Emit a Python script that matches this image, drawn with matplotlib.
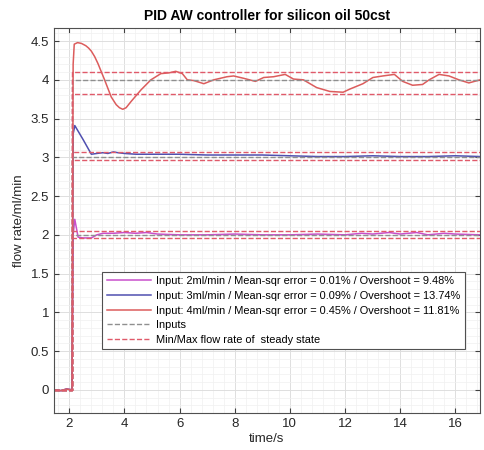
import numpy as np
import matplotlib.pyplot as plt
from matplotlib.ticker import MultipleLocator, AutoMinorLocator

plt.rcParams['font.family'] = ['Liberation Sans', 'DejaVu Sans']

# step time of the setpoint
t_step = 2.1
t_end = 16.9

# 2 ml/min response
t2 = [1.44, 1.7, 1.9, 2.1, 2.14, 2.2, 2.32, 2.5, 2.8, 3.0, 3.22, 3.6, 4.0, 4.4, 4.8, 5.2,
      6.0, 7.0, 8.0, 9.0, 10.0, 11.0, 12.0, 12.6, 13.0, 13.6, 14.0, 14.6, 15.0, 15.6, 16.0, 16.9]
v2 = [0.0, -0.01, 0.01, 0.0, 2.0, 2.2, 1.97, 1.96, 1.96, 2.0, 2.02, 2.02, 2.03, 2.02, 2.03, 2.01,
      2.0, 2.0, 2.01, 2.0, 2.0, 2.01, 2.0, 2.02, 2.01, 2.03, 2.01, 2.03, 2.0, 2.02, 2.01, 2.0]

# 3 ml/min response
t3 = [1.44, 1.7, 1.9, 2.1, 2.14, 2.2, 2.5, 2.8, 3.0, 3.22, 3.4, 3.6, 3.76, 4.0, 4.42, 5.0,
      6.0, 7.0, 8.0, 9.0, 10.0, 11.0, 12.0, 13.0, 14.0, 15.0, 16.0, 16.9]
v3 = [0.0, -0.01, 0.01, 0.0, 3.3, 3.41, 3.23, 3.04, 3.05, 3.06, 3.05, 3.07, 3.06, 3.05, 3.04, 3.04,
      3.04, 3.03, 3.03, 3.03, 3.02, 3.01, 3.01, 3.02, 3.01, 3.01, 3.02, 3.01]

# 4 ml/min response
t4 = [1.44, 1.7, 1.9, 2.1, 2.14, 2.18, 2.3, 2.44, 2.6, 2.7, 2.8, 2.92, 3.04, 3.28, 3.52, 3.7,
      3.82, 3.94, 4.06, 4.24, 4.6, 4.96, 5.32, 5.62, 5.86, 6.1, 6.28, 6.52, 6.88, 7.24, 7.72,
      7.96, 8.32, 8.75, 9.05, 9.41, 9.83, 10.13, 10.49, 10.97, 11.45, 11.93, 12.17, 12.65,
      13.01, 13.37, 13.79, 14.09, 14.45, 14.81, 15.05, 15.41, 15.77, 16.13, 16.49, 16.9]
v4 = [0.0, -0.01, 0.01, 0.0, 4.2, 4.46, 4.48, 4.47, 4.44, 4.41, 4.37, 4.3, 4.21, 4.0, 3.78, 3.68,
      3.64, 3.62, 3.64, 3.72, 3.87, 4.0, 4.08, 4.09, 4.11, 4.08, 4.0, 3.99, 3.95, 4.0, 4.04,
      4.05, 4.02, 3.98, 4.03, 4.04, 4.07, 4.01, 4.0, 3.9, 3.85, 3.84, 3.88, 3.95,
      4.03, 4.05, 4.07, 3.98, 3.93, 3.94, 4.0, 4.07, 4.05, 4.0, 3.96, 4.0]

inputs = [2, 3, 4]
ss_min = [1.965, 2.963, 3.815]
ss_max = [2.045, 3.07, 4.10]

labels = [
    "Input: 2ml/min / Mean-sqr error = 0.01% / Overshoot = 9.48%",
    "Input: 3ml/min / Mean-sqr error = 0.09% / Overshoot = 13.74%",
    "Input: 4ml/min / Mean-sqr error = 0.45% / Overshoot = 11.81%",
]
colors = ['#c94fcc', '#4f4fb0', '#dc5c5c']

fig = plt.figure(figsize=(4.85, 4.5), dpi=100)
ax = fig.add_axes([0.111, 0.082, 0.879, 0.856])

for t, v, c, lab in zip([t2, t3, t4], [v2, v3, v4], colors, labels):
    ax.plot(t, v, color=c, lw=1.1, label=lab)

# setpoint steps and steady-state bounds
for i, (u, lo, hi) in enumerate(zip(inputs, ss_min, ss_max)):
    xs = [1.44, t_step, t_step, t_end]
    ax.plot(xs, [0, 0, u, u], ls='--', color='#8f8f8f', lw=1.0,
            label='Inputs' if i == 0 else '_nolegend_')
    ax.plot(xs, [0, 0, hi, hi], ls='--', color='#e05a6a', lw=1.0,
            label='Min/Max flow rate of  steady state' if i == 0 else '_nolegend_')
    ax.plot(xs, [0, 0, lo, lo], ls='--', color='#e05a6a', lw=1.0, label='_nolegend_')

ax.set_xlim(1.44, 16.9)
ax.set_ylim(-0.3, 4.67)
ax.xaxis.set_major_locator(MultipleLocator(2))
ax.yaxis.set_major_locator(MultipleLocator(0.5))
ax.xaxis.set_minor_locator(AutoMinorLocator(5))
ax.yaxis.set_minor_locator(AutoMinorLocator(5))
ax.yaxis.set_major_formatter(plt.FuncFormatter(lambda y, _: f"{y:g}"))

ax.grid(which='major', color='#dedede', lw=0.7)
ax.grid(which='minor', color='#f0f0f0', lw=0.5)
ax.set_axisbelow(True)
ax.tick_params(which='both', direction='in', top=True, right=True, colors='#404040',
               labelcolor='#262626', labelsize=9.5)
ax.tick_params(which='minor', length=0)
for s in ax.spines.values():
    s.set_color('#505050')
    s.set_linewidth(0.8)

ax.set_title("PID AW controller for silicon oil 50cst", fontsize=10, fontweight='bold', pad=6)
ax.set_xlabel("time/s", fontsize=9.5, color='#262626', labelpad=2)
ax.set_ylabel("flow rate/ml/min", fontsize=9.5, color='#262626', labelpad=4)

# legend: three responses, then one entry each for inputs and bounds
h, l = ax.get_legend_handles_labels()
leg = ax.legend(h, l, loc='lower left', borderaxespad=0,
                bbox_to_anchor=(0.114, 0.166), fontsize=7.9, handlelength=4,
                fancybox=False, framealpha=1, edgecolor='#505050',
                borderpad=0.4, labelspacing=0.42, handletextpad=0.5)
leg.get_frame().set_linewidth(0.8)

fig.savefig("out.png", dpi=100)
